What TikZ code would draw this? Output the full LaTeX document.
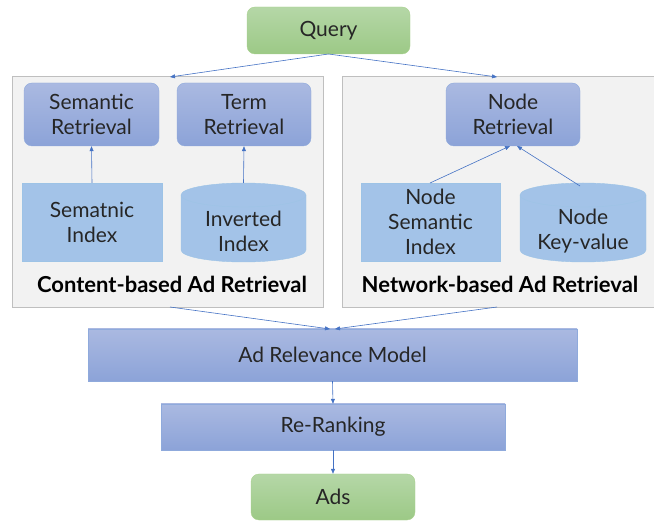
\documentclass[tikz,border=0pt]{standalone}
\usepackage{fontspec}
\setmainfont{Lato}
\usetikzlibrary{arrows.meta}
\definecolor{arr}{HTML}{4472C4}
\definecolor{bluetop}{HTML}{AAB9E1}
\definecolor{bluebot}{HTML}{8CA3D8}
\definecolor{blueline}{HTML}{8FAADC}
\definecolor{idxfill}{HTML}{A3C3E8}
\definecolor{idxline}{HTML}{9DC3E6}
\definecolor{greentop}{HTML}{B5D7A7}
\definecolor{greenbot}{HTML}{9CC986}
\definecolor{greenline}{HTML}{A9D18E}
\definecolor{panelfill}{HTML}{F2F2F2}
\definecolor{panelline}{HTML}{BFBFBF}
\begin{document}
\begin{tikzpicture}[x=1pt,y=-1pt,
  txt/.style={font=\fontsize{21}{25}\selectfont, text=black!85, align=center},
  bluebox/.style={txt, rounded corners=8pt, draw=blueline, top color=bluetop, bottom color=bluebot, inner sep=0pt},
  flatbox/.style={txt, draw=blueline, top color=bluetop, bottom color=bluebot, inner sep=0pt},
  greenbox/.style={txt, rounded corners=8pt, draw=greenline, top color=greentop, bottom color=greenbot, inner sep=0pt},
  idxbox/.style={txt, draw=idxline, fill=idxfill, inner sep=0pt},
  panel/.style={draw=panelline, fill=panelfill, inner sep=0pt},
  conn/.style={draw=arr, line width=0.6pt, -{Triangle[length=5pt,width=4pt]}},
  paneltitle/.style={font=\bfseries\fontsize{22}{26}\selectfont, text=black}
]
\useasboundingbox (0,0) rectangle (654,521);
% panels
\node[panel, minimum width=311pt, minimum height=231pt, anchor=north west] (lp) at (12,76) {};
\node[panel, minimum width=316pt, minimum height=231pt, anchor=north west] (rp) at (342,76) {};
\node[paneltitle] (lt) at (172,284) {Content-based Ad Retrieval};
\node[paneltitle] (rt) at (500,284) {Network-based Ad Retrieval};
% query
\node[greenbox, minimum width=163pt, minimum height=47pt] (q) at (328.5,30.5) {Query};
% retrieval boxes
\node[bluebox, minimum width=135pt, minimum height=63pt] (sr) at (91.5,114.5) {Semantic\\Retrieval};
\node[bluebox, minimum width=134pt, minimum height=63pt] (tr) at (244,114.5) {Term\\Retrieval};
\node[bluebox, minimum width=134pt, minimum height=63pt] (nr) at (513,114.5) {Node\\Retrieval};
% index boxes
\node[idxbox, minimum width=140pt, minimum height=78pt] (si) at (92,222) {Sematnic\\Index};
\node[idxbox, minimum width=139pt, minimum height=78pt] (nsi) at (430.5,222) {Node\\Semantic\\Index};
% cylinders
\foreach \nm/\L/\R/\tx in {ii/181/306/{Inverted\\Index}, kv/520/646/{Node\\Key-value}}{
  \pgfmathsetmacro{\rx}{(\R-\L)/2}
  \pgfmathsetmacro{\cx}{(\R+\L)/2}
  \fill[idxfill] (\L,195) -- (\L,250) arc[start angle=180,end angle=0,x radius=\rx,y radius=12]
     -- (\R,195) arc[start angle=0,end angle=-180,x radius=\rx,y radius=12] -- cycle;
  \draw[idxline] (\L,195) -- (\L,250) arc[start angle=180,end angle=0,x radius=\rx,y radius=12]
     -- (\R,195) arc[start angle=0,end angle=-180,x radius=\rx,y radius=12];
  \draw[idxline] (\L,195) arc[start angle=180,end angle=0,x radius=\rx,y radius=12];
  \node[txt, inner sep=0pt] (\nm) at (\cx,231) {\tx};
}
\coordinate (iitop) at (243.5,183);
\coordinate (kvtop) at (580,186);
% lower pipeline
\node[flatbox, minimum width=489pt, minimum height=52pt] (arm) at (332.5,355) {Ad Relevance Model};
\node[flatbox, minimum width=344pt, minimum height=46pt] (rr) at (333,427) {Re-Ranking};
\node[greenbox, minimum width=164pt, minimum height=46pt] (ads) at (333,497) {Ads};
% connectors
\coordinate (qb) at (328.5,54);
\coordinate (lpt) at (170,77);
\coordinate (rpt) at (497,77);
\draw[conn] (qb) -- (lpt);
\draw[conn] (qb) -- (rpt);
\draw[conn] (si.north) -- (sr.south);
\draw[conn] (iitop) -- (tr.south);
\draw[conn] (430,183) -- (510,146);
\draw[conn] (kvtop) -- (517,146);
\coordinate (lpb) at (170,307);
\coordinate (rpb) at (497,307);
\draw[conn] (lpb) -- (330,329);
\draw[conn] (rpb) -- (335,329);
\draw[conn] (arm.south) -- (rr.north);
\draw[conn] (rr.south) -- (ads.north);
\end{tikzpicture}
\end{document}
